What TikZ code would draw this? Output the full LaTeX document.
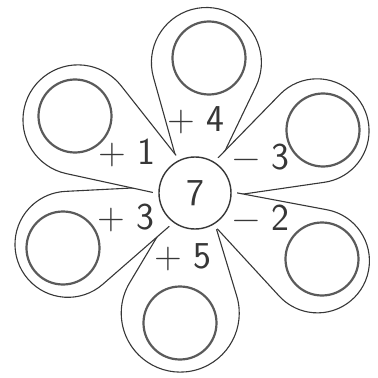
\documentclass[tikz,border=0pt]{standalone}
\usepackage{fontspec}
\usetikzlibrary{positioning}
\definecolor{inkgray}{RGB}{55,55,55}
\definecolor{ringgray}{RGB}{90,90,90}

% petal: axis angle, distance of the round end, radius of the round end
\newcommand{\flowerpetal}[3]{%
    \pgfmathsetmacro{\tang}{asin(#3/(#2+25))}
    \pgfmathsetmacro{\tx}{#2-#3*sin(\tang)}
    \pgfmathsetmacro{\ty}{#3*cos(\tang)}
    \filldraw[petal, rotate=#1] (-25,0) -- (\tx,\ty)
        arc[start angle=90+\tang, end angle=-90-\tang, radius=#3] -- cycle;
}

\begin{document}
\begin{tikzpicture}[
    x=1pt, y=1pt,
    % Global Styles
    petal/.style={
        draw=inkgray,
        line width=1.1pt,
        fill=white
    },
    % Node Styles
    seedring/.style={
        circle,
        draw=ringgray,
        line width=2.2pt,
        minimum size=73pt,
        inner sep=0pt
    },
    heart/.style={
        circle,
        draw=inkgray,
        line width=1.4pt,
        minimum size=72pt,
        inner sep=0pt,
        text=inkgray,
        font=\sffamily\fontsize{38}{40}\selectfont
    },
    sumlabel/.style={
        text=inkgray,
        inner sep=0pt,
        font=\sffamily\fontsize{38}{40}\selectfont
    }
]
    \useasboundingbox (-195,-185) rectangle (183,193);

    % --- The Petals ---
    \flowerpetal{85}{131}{55}
    \flowerpetal{27}{137}{52}
    \flowerpetal{-29}{140}{52}
    \flowerpetal{-97}{121}{59}
    \flowerpetal{202}{137}{53}
    \flowerpetal{148}{138}{55}

    % gap round the centre
    \fill[white] (0,0) circle[radius=42];

    % --- Centre ---
    \node[heart] (seven) at (0,0) {7};

    % --- Empty rings ---
    \node[seedring] (ring4) at (14,135) {};
    \node[seedring] (ring3) at (128,63) {};
    \node[seedring] (ring2) at (127,-66) {};
    \node[seedring] (ring5) at (-15,-130) {};
    \node[seedring] (ringb) at (-132,-55) {};
    \node[seedring] (ring1) at (-120,77) {};

    % --- Labels ---
    \node[sumlabel] (plusfour) at (1,73) {+ 4};
    \node[sumlabel] (plusone) at (-68,40) {+ 1};
    \node[sumlabel] (minusthree) at (66,36) {\textminus\ 3};
    \node[sumlabel] (minustwo) at (66,-25) {\textminus\ 2};
    \node[sumlabel] (plusthree) at (-69,-25) {+ 3};
    \node[sumlabel] (plusfive) at (-12,-64) {+ 5};

\end{tikzpicture}
\end{document}
